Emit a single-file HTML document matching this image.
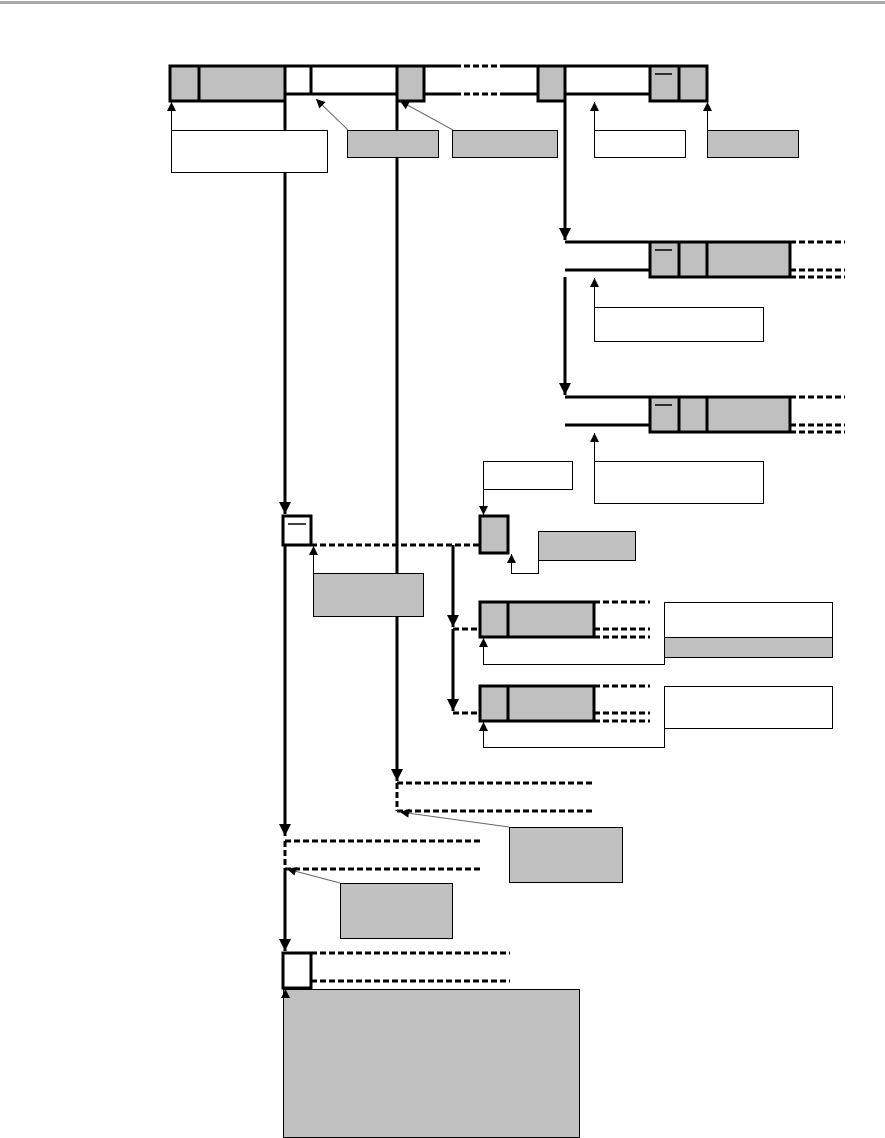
<!DOCTYPE html>
<html><head><meta charset="utf-8"><style>body{margin:0;background:#fff}svg{display:block}</style></head><body>
<svg width="885" height="1138" viewBox="0 0 885 1138" xmlns="http://www.w3.org/2000/svg">
<defs>
<marker id="a" viewBox="0 0 10 10" refX="10" refY="5" markerWidth="9" markerHeight="9" markerUnits="userSpaceOnUse" orient="auto"><path d="M0,0L10,5L0,10z" fill="#000"/></marker>
<marker id="b" viewBox="0 0 10 10" refX="10" refY="5" markerWidth="14" markerHeight="12" markerUnits="userSpaceOnUse" orient="auto"><path d="M0,0L10,5L0,10z" fill="#000"/></marker>
</defs>
<rect x="0" y="1" width="885" height="3" fill="#aaa"/>
<g fill="#c0c0c0" stroke="#000" stroke-width="3">
<!-- top bar -->
<path d="M285,66H455M505,66H707" fill="none"/>
<rect x="170" y="66" width="29" height="35"/><rect x="199" y="66" width="86" height="35"/>
<path d="M285,94H455M505,94H538M311,66V94" fill="none"/>
<rect x="397" y="66" width="27" height="35"/>
<rect x="538" y="66" width="27" height="35"/>
<path d="M565,94H650" fill="none"/>
<rect x="650" y="66" width="29" height="35"/><rect x="679" y="66" width="28" height="35"/>
<!-- row2 -->
<path d="M565,242H650M565,270H650" fill="none"/>
<rect x="650" y="242" width="29" height="35"/><rect x="679" y="242" width="28" height="35"/><rect x="707" y="242" width="83" height="35"/>
<path d="M565,397H650M565,425H650" fill="none"/>
<rect x="650" y="397" width="29" height="35"/><rect x="679" y="397" width="28" height="35"/><rect x="707" y="397" width="83" height="35"/>
<!-- mid -->
<rect x="283" y="516" width="28" height="29" fill="#fff"/>
<rect x="480" y="516" width="28" height="37"/>
<rect x="480" y="602" width="28" height="35"/><rect x="508" y="602" width="86" height="35"/>
<rect x="480" y="686" width="28" height="35"/><rect x="508" y="686" width="86" height="35"/>
<rect x="283" y="953" width="28" height="35" fill="#fff"/>
</g>
<g stroke="#000" stroke-width="1.5">
<path d="M655,74H672M655,250H672M655,405H672M288,524H306"/>
</g>
<!-- dashed -->
<g stroke="#000" stroke-width="3" stroke-dasharray="6,3" fill="none">
<path d="M455,66H505M455,94H505"/>
<path d="M790,242H845M790,270H845M790,277H845"/>
<path d="M790,397H845M790,425H845M790,432H845"/>
<path d="M311,545H480"/>
<path d="M594,602H650M594,629H650M594,637H650M453,629H480"/>
<path d="M594,686H650M594,713H650M594,721H650M453,713H480"/>
<path d="M397,783H595M397,811H595M397,783V811"/>
<path d="M285,841H480M285,869H480M285,841V869"/>
<path d="M311,953H510M311,981H510"/>
</g>
<!-- thick vertical arrows -->
<g stroke="#000" stroke-width="3" fill="none">
<path d="M285,101V514" marker-end="url(#b)"/>
<path d="M285,545V836" marker-end="url(#b)"/>
<path d="M285,869V951" marker-end="url(#b)"/>
<path d="M397,101V781" marker-end="url(#b)"/>
<path d="M565,101V240" marker-end="url(#b)"/>
<path d="M565,277V395" marker-end="url(#b)"/>
<path d="M453,545V627" marker-end="url(#b)"/>
<path d="M453,629V711" marker-end="url(#b)"/>
</g>
<!-- label boxes -->
<g stroke="#000" stroke-width="1">
<rect x="171.5" y="130.5" width="156" height="42" fill="#fff"/>
<rect x="347.5" y="130.5" width="91" height="27" fill="#c0c0c0"/>
<rect x="452.5" y="130.5" width="105" height="27" fill="#c0c0c0"/>
<rect x="594.5" y="130.5" width="91" height="27" fill="#fff"/>
<rect x="707.5" y="130.5" width="91" height="27" fill="#c0c0c0"/>
<rect x="594.5" y="307.5" width="169" height="34" fill="#fff"/>
<rect x="594.5" y="461.5" width="169" height="42" fill="#fff"/>
<rect x="483.5" y="461.5" width="89" height="28" fill="#fff"/>
<rect x="538.5" y="531.5" width="97" height="29" fill="#c0c0c0"/>
<rect x="313.5" y="573.5" width="110" height="43" fill="#c0c0c0"/>
<rect x="664.5" y="602.5" width="168" height="35" fill="#fff"/>
<rect x="664.5" y="637.5" width="168" height="20" fill="#c0c0c0"/>
<rect x="664.5" y="686.5" width="168" height="42" fill="#fff"/>
<rect x="509.5" y="827.5" width="113" height="55" fill="#c0c0c0"/>
<rect x="340.5" y="883.5" width="112" height="55" fill="#c0c0c0"/>
<rect x="283.5" y="989.5" width="296" height="148" fill="#c0c0c0"/>
</g>
<!-- thin connectors -->
<g stroke="#000" stroke-width="1" fill="none">
<path d="M171.5,130V102" marker-end="url(#a)"/>
<path d="M348,130L316,99" stroke="#666" marker-end="url(#a)"/>
<path d="M453,130L400,101" stroke="#666" marker-end="url(#a)"/>
<path d="M594.5,130V102" marker-end="url(#a)"/>
<path d="M707.5,130V102" marker-end="url(#a)"/>
<path d="M594.5,307V278" marker-end="url(#a)"/>
<path d="M594.5,461V433" marker-end="url(#a)"/>
<path d="M483.5,489V515" marker-end="url(#a)"/>
<path d="M538.5,560V573.5H511.5V554" marker-end="url(#a)"/>
<path d="M313.5,573V546" marker-end="url(#a)"/>
<path d="M664.5,657V664.5H483.5V638" marker-end="url(#a)"/>
<path d="M664.5,728V747.5H483.5V722" marker-end="url(#a)"/>
<path d="M509,827L400,812" stroke="#666" marker-end="url(#a)"/>
<path d="M340,883L287,869" stroke="#666" marker-end="url(#a)"/>
<path d="M285.5,989V989" />
<path d="M285.5,990V989" marker-end="url(#a)"/>
</g>
</svg>
</body></html>
